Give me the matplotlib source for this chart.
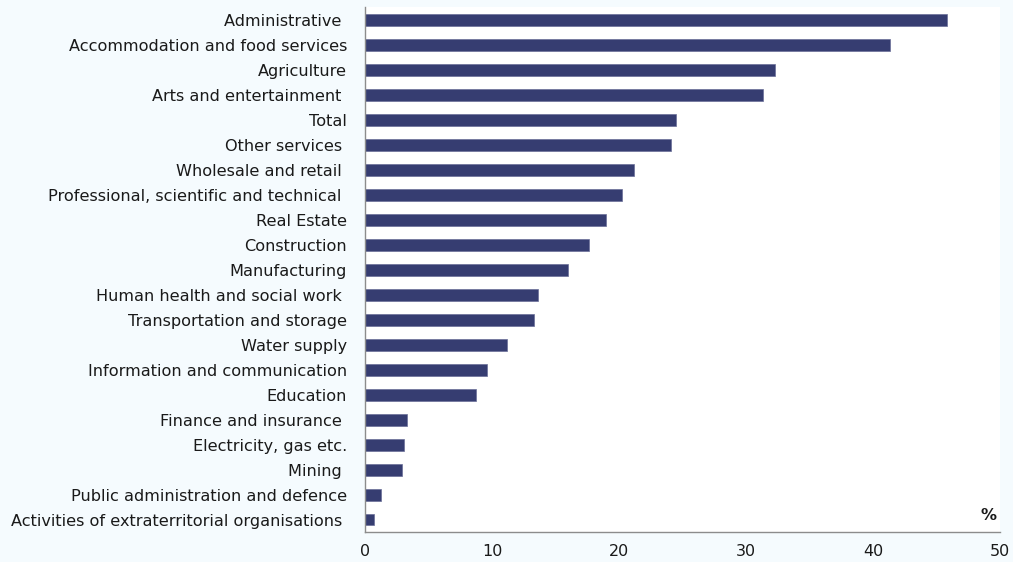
import matplotlib
matplotlib.use("Agg")
import matplotlib.pyplot as plt

categories = [
    "Administrative ",
    "Accommodation and food services",
    "Agriculture",
    "Arts and entertainment ",
    "Total",
    "Other services ",
    "Wholesale and retail ",
    "Professional, scientific and technical ",
    "Real Estate",
    "Construction",
    "Manufacturing",
    "Human health and social work ",
    "Transportation and storage",
    "Water supply",
    "Information and communication",
    "Education",
    "Finance and insurance ",
    "Electricity, gas etc.",
    "Mining ",
    "Public administration and defence",
    "Activities of extraterritorial organisations ",
]
values = [45.8, 41.3, 32.3, 31.3, 24.5, 24.1, 21.2, 20.2, 19.0, 17.6, 16.0,
          13.6, 13.3, 11.2, 9.6, 8.7, 3.3, 3.1, 2.9, 1.3, 0.7]
xticks = [0, 10, 20, 30, 40, 50]

bar_color = "#363d71"
bg = "#f5fbfe"

fig = plt.figure(figsize=(10.13, 5.62), dpi=100, facecolor=bg)
ax = fig.add_axes([0.3603, 0.0534, 0.627, 0.9333])
ax.set_facecolor("white")

ypos = list(range(len(categories)))
ax.barh(ypos, values, height=0.48, color=bar_color, edgecolor="#6a6f98", linewidth=0.5)

ax.set_ylim(len(categories) - 0.5, -0.5)
ax.set_xlim(0, 50)
ax.set_yticks(ypos)
ax.set_yticklabels(categories, fontsize=11.6, family="DejaVu Sans", color="#1a1a1a")
ax.set_xticks(xticks)
ax.set_xticklabels([str(t) for t in xticks], fontsize=11.5, color="#1a1a1a")
ax.tick_params(axis="y", length=0, pad=13)
ax.tick_params(axis="x", length=0, pad=9)

for s in ["top", "right"]:
    ax.spines[s].set_visible(False)
for s in ["left", "bottom"]:
    ax.spines[s].set_color("#8c8c8c")
    ax.spines[s].set_linewidth(1.0)

ax.text(0.995, 0.018, "%", transform=ax.transAxes, ha="right", va="bottom",
        fontsize=11.5, fontweight="bold", color="#1a1a1a")

fig.savefig("out.png", dpi=100, facecolor=bg)
